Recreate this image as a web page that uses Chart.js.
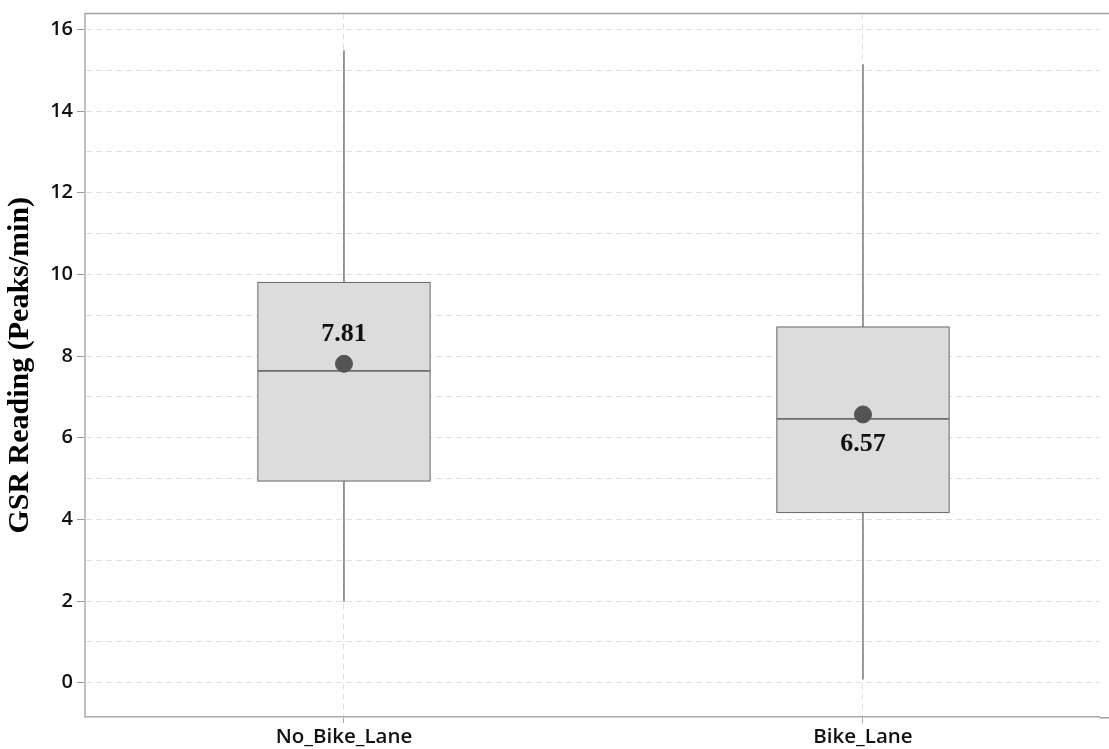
<!DOCTYPE html>
<html>
<head>
<meta charset="utf-8">
<script src="https://cdn.jsdelivr.net/npm/chart.js@4/dist/chart.umd.min.js"></script>
<style>
  html, body { margin: 0; padding: 0; background: #fff; overflow: hidden; }
  #wrap { width: 1109px; height: 749px; position: relative; }
</style>
</head>
<body>
<div id="wrap"><canvas id="c"></canvas></div>
<script>
// ---- data ----
const categories = ['No_Bike_Lane', 'Bike_Lane'];
const whiskerLow  = [1.98, 0.08];
const q1          = [4.93, 4.16];
const median      = [7.64, 6.46];
const q3          = [9.81, 8.72];
const whiskerHigh = [15.49, 15.15];
const means       = [7.81, 6.57];
const meanLabels  = ['7.81', '6.57'];
const yTicks      = [0, 2, 4, 6, 8, 10, 12, 14, 16];

// ---- styles ----
const boxFill = '#dcdcdc';
const boxEdge = '#6e6e6e';
const whiskerColor = '#5a5a5a';
const meanColor = '#545454';
const gridColor = '#e0e0e0';
const labelOffsets = [-30, 30];

const xs = categories.map((c, i) => i + 1);

const datasets = [];
xs.forEach((x, i) => {
  datasets.push({
    type: 'line',
    data: [{ x: x, y: whiskerLow[i] }, { x: x, y: whiskerHigh[i] }],
    borderColor: whiskerColor,
    borderWidth: 1.2,
    pointRadius: 0,
    fill: false,
    order: 3
  });
});
datasets.push({
  type: 'bar',
  data: xs.map((x, i) => ({ x: x, y: [q1[i], median[i]] })),
  backgroundColor: boxFill,
  borderColor: boxEdge,
  borderWidth: 1.2,
  borderSkipped: false,
  barThickness: 173,
  grouped: false,
  order: 2
});
datasets.push({
  type: 'bar',
  data: xs.map((x, i) => ({ x: x, y: [median[i], q3[i]] })),
  backgroundColor: boxFill,
  borderColor: boxEdge,
  borderWidth: 1.2,
  borderSkipped: false,
  barThickness: 173,
  grouped: false,
  order: 2
});
datasets.push({
  type: 'scatter',
  data: xs.map((x, i) => ({ x: x, y: means[i] })),
  backgroundColor: meanColor,
  borderColor: meanColor,
  pointRadius: 8.5,
  pointHoverRadius: 8.5,
  order: 1
});

const meanLabelPlugin = {
  id: 'meanLabels',
  afterDatasetsDraw(chart) {
    const { ctx, scales } = chart;
    ctx.save();
    ctx.font = 'bold 26px "Liberation Serif", "Times New Roman", serif';
    ctx.fillStyle = '#111';
    ctx.textAlign = 'center';
    ctx.textBaseline = 'middle';
    xs.forEach((x, i) => {
      const px = scales.x.getPixelForValue(x);
      const py = scales.y.getPixelForValue(means[i]) + labelOffsets[i];
      ctx.fillText(meanLabels[i], px, py);
    });
    ctx.restore();
  }
};

const framePlugin = {
  id: 'frame',
  afterDraw(chart) {
    const { ctx, chartArea } = chart;
    ctx.save();
    ctx.strokeStyle = '#a0a0a0';
    ctx.lineWidth = 1.5;
    ctx.beginPath();
    ctx.moveTo(chartArea.left, chartArea.top);
    ctx.lineTo(chart.width, chartArea.top);
    ctx.moveTo(chartArea.right, chartArea.bottom + 0.75);
    ctx.lineTo(chart.width, chartArea.bottom + 0.75);
    ctx.stroke();
    ctx.restore();
  }
};

new Chart(document.getElementById('c'), {
  type: 'bar',
  data: { datasets },
  plugins: [meanLabelPlugin, framePlugin],
  options: {
    responsive: true,
    maintainAspectRatio: false,
    animation: false,
    layout: { padding: { top: 13.5, right: 0, left: 0, bottom: 0 } },
    plugins: { legend: { display: false }, tooltip: { enabled: false } },
    scales: {
      x: {
        type: 'linear',
        min: 0.501,
        max: 2.4557,
        offset: false,
        afterBuildTicks(scale) { scale.ticks = xs.map(v => ({ value: v })); },
        afterFit(scale) { scale.height = 32; scale.paddingLeft = 0; scale.paddingRight = 0; scale.paddingTop = 0; scale.paddingBottom = 0; },
        ticks: {
          callback: (v) => categories[v - 1] || '',
          color: '#111',
          font: { family: '"Open Sans", sans-serif', size: 20.5, weight: '600' },
          padding: 2,
          maxRotation: 0,
          autoSkip: false
        },
        grid: {
          offset: false,
          color: gridColor,
          lineWidth: 1,
          tickLength: 6,
          tickColor: '#aaa'
        },
        border: { display: true, color: '#a8a8a8', width: 1.5, dash: [6, 4] }
      },
      y: {
        type: 'linear',
        min: -0.84,
        max: 16.39,
        afterBuildTicks(scale) {
          const t = [];
          for (let v = 0; v <= 16; v++) t.push({ value: v });
          scale.ticks = t;
        },
        afterFit(scale) { scale.width = 85; scale.paddingLeft = 0; scale.paddingRight = 0; scale.paddingTop = 0; scale.paddingBottom = 0; },
        ticks: {
          callback: (v) => (yTicks.includes(v) ? String(v) : ''),
          color: '#111',
          font: { family: '"Open Sans", sans-serif', size: 20, weight: '600' },
          padding: 4,
          autoSkip: false
        },
        grid: {
          color: gridColor,
          lineWidth: 1,
          tickLength: 8,
          tickColor: (ctx) => (ctx.tick && yTicks.includes(ctx.tick.value) ? '#999' : 'rgba(0,0,0,0)')
        },
        border: { display: true, color: '#c0c0c0', width: 2, dash: [6, 4] },
        title: {
          display: true,
          text: 'GSR Reading (Peaks/min)',
          color: '#000',
          font: { family: '"Liberation Serif", "Times New Roman", serif', size: 30, weight: 'bold' },
          padding: { top: 2, bottom: 0 }
        }
      }
    }
  }
});
</script>
</body>
</html>
